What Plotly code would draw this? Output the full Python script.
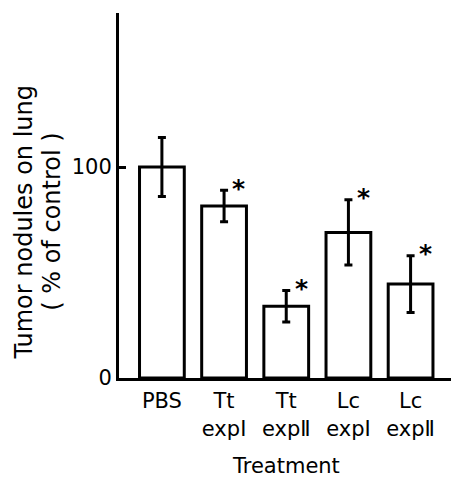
import plotly.graph_objects as go

categories = ["PBS", "Tt<br>expⅠ", "Tt<br>expⅡ", "Lc<br>expⅠ", "Lc<br>expⅡ"]
means = [100, 81.5, 34, 69, 44.5]
errors = [14, 7.5, 7.5, 15.5, 13.5]
significant = [False, True, True, True, True]
y_ticks = [0, 100]

FONT = "DejaVu Sans"
x_pos = list(range(len(categories)))

fig = go.Figure()
fig.add_trace(go.Bar(
    x=x_pos, y=means, width=0.72,
    marker=dict(color="white", line=dict(color="black", width=3)),
    error_y=dict(type="data", array=errors, visible=True, color="black", thickness=3, width=4),
    showlegend=False,
))

annotations = []
for i, (m, e, s) in enumerate(zip(means, errors, significant)):
    if s:
        annotations.append(dict(x=i + 0.24, y=m + e, xref="x", yref="y", text="<b>*</b>",
                                showarrow=False, font=dict(family=FONT, size=25, color="black"),
                                xanchor="center", yanchor="middle", yshift=2))

annotations += [
    dict(x=0.503, y=0, xref="paper", yref="paper", text="Treatment", showarrow=False,
         font=dict(family=FONT, size=21, color="black"), xanchor="center", yanchor="middle", yshift=-88),
    dict(x=-0.285, y=0.427, xref="paper", yref="paper", text="Tumor nodules on lung", showarrow=False,
         textangle=-90, font=dict(family=FONT, size=24, color="black"), xanchor="center", yanchor="middle"),
    dict(x=-0.2, y=0.427, xref="paper", yref="paper", text="( % of control )", showarrow=False,
         textangle=-90, font=dict(family=FONT, size=24, color="black"), xanchor="center", yanchor="middle"),
]

fig.update_layout(
    width=451, height=479,
    margin=dict(l=119, r=0, t=13, b=101),
    plot_bgcolor="white", paper_bgcolor="white",
    font=dict(family=FONT, size=21, color="black"),
    annotations=annotations,
    xaxis=dict(range=[-0.69, 4.65], tickmode="array", tickvals=x_pos, ticktext=categories,
               showline=True, linecolor="black", linewidth=3, showgrid=False, zeroline=False,
               ticks="", ticklabelstandoff=2),
    yaxis=dict(range=[0, 173], tickmode="array", tickvals=y_ticks, ticktext=[str(t) for t in y_ticks],
               showline=True, linecolor="black", linewidth=3, showgrid=False, zeroline=False,
               ticks="inside", ticklen=7, tickwidth=3, tickcolor="black",
               ticklabelstandoff=0, tickfont=dict(size=21)),
)

fig.write_html("out.html")
